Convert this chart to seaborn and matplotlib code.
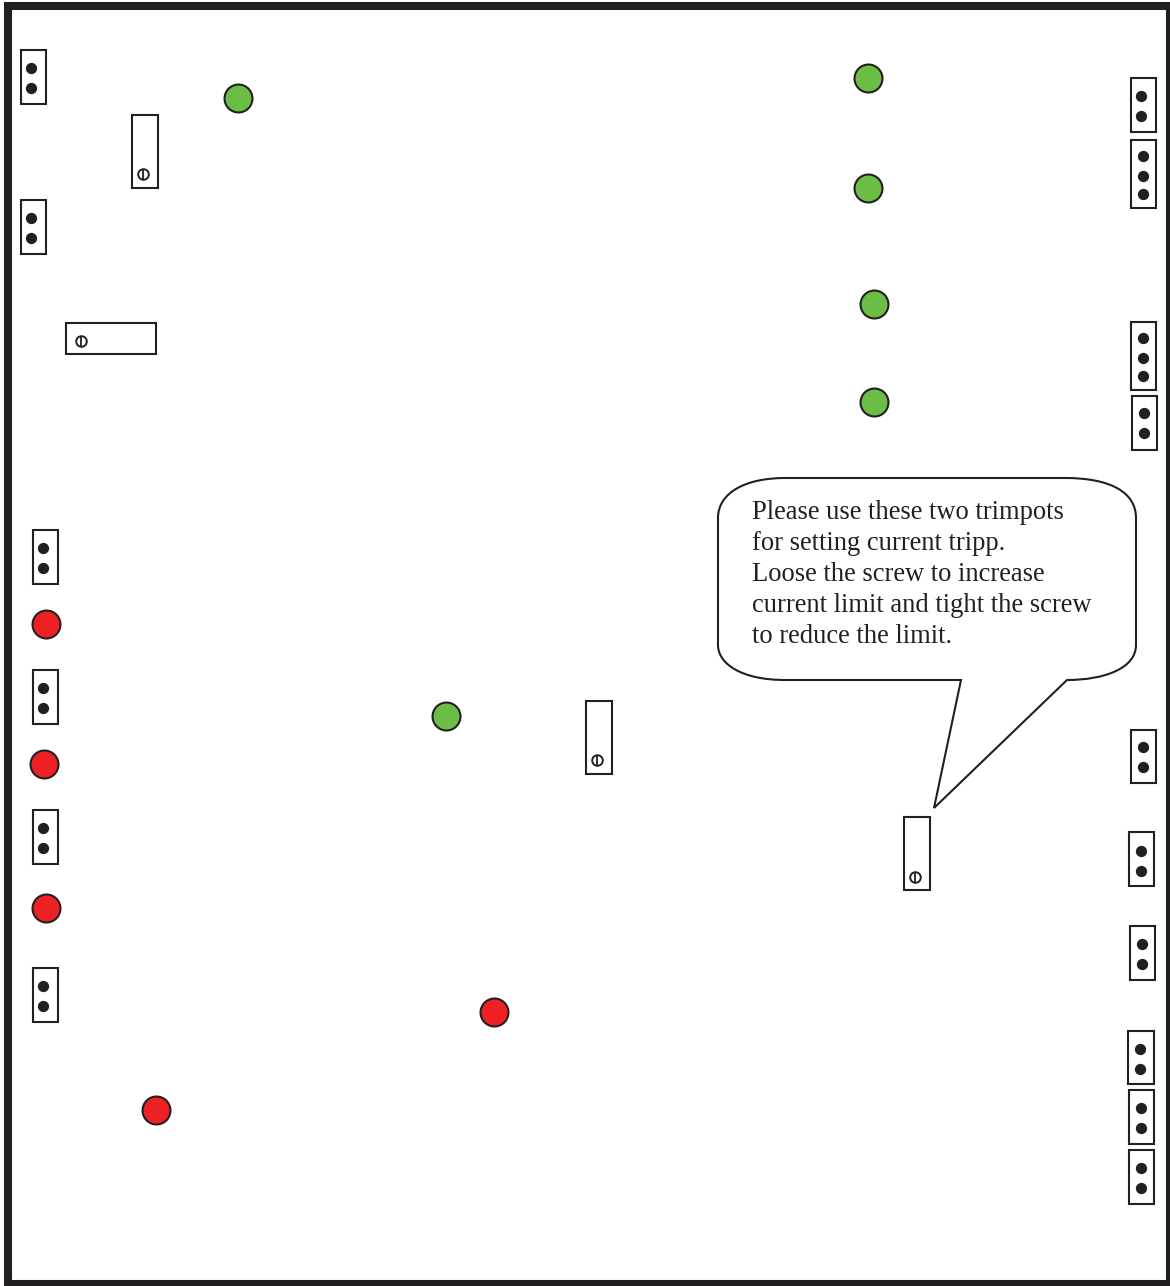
import matplotlib
matplotlib.use("Agg")
import matplotlib.pyplot as plt
from matplotlib.patches import Rectangle, PathPatch
from matplotlib.path import Path
import seaborn as sns

sns.set_theme(style="white")
plt.rcParams['font.family'] = ['Liberation Serif', 'DejaVu Serif']

INK = "#231f20"
GREEN = "#6abd45"
RED = "#ed2024"

# connector boxes: left, top, right, bottom
connector_boxes = [
    (21, 50, 46, 104), (21, 200, 46, 254),
    (1131, 78, 1156, 132), (1131, 140, 1156, 208),
    (1131, 322, 1156, 390), (1132, 396, 1157, 450),
    (33, 530, 58, 584), (33, 670, 58, 724), (33, 810, 58, 864), (33, 968, 58, 1022),
    (1131, 730, 1156, 783), (1129, 832, 1154, 886), (1130, 926, 1155, 980),
    (1128, 1031, 1154, 1084), (1129, 1090, 1154, 1144), (1129, 1150, 1154, 1204),
]
pin_x = [30.6, 30.6, 30.6, 30.6, 1140.6, 1140.6, 1142.6, 1142.6, 1142.6, 1142.6, 1142.6, 1142.6, 1143.6, 1143.6,
         42.6, 42.6, 42.6, 42.6, 42.6, 42.6, 42.6, 42.6,
         1142.6, 1142.6, 1140.6, 1140.6, 1141.6, 1141.6, 1139.6, 1139.6, 1140.6, 1140.6, 1140.6, 1140.6]
pin_y = [67.6, 87.6, 217.6, 237.6, 95.6, 115.6, 155.6, 175.6, 193.6, 337.6, 357.6, 375.6, 412.6, 432.6,
         547.6, 567.6, 687.6, 707.6, 827.6, 847.6, 985.6, 1005.6,
         746.6, 766.6, 850.6, 870.6, 943.6, 963.6, 1048.6, 1068.6, 1107.6, 1127.6, 1167.6, 1187.6]

# trimpots: left, top, right, bottom
trimpot_boxes = [(132, 115, 158, 188), (66, 323, 156, 354), (586, 701, 612, 774), (904, 817, 930, 890)]
screw_x = [142.6, 80.6, 596.6, 914.6]
screw_y = [173.6, 340.6, 759.6, 876.6]

green_x = [237.6, 867.6, 867.6, 873.6, 873.6, 445.6]
green_y = [97.6, 77.6, 187.6, 303.6, 401.6, 715.6]
red_x = [45.6, 43.6, 45.6, 493.6, 155.6]
red_y = [623.6, 763.6, 907.6, 1011.6, 1109.6]

note_lines = [
    "Please use these two trimpots",
    "for setting current tripp.",
    "Loose the screw to increase",
    "current limit and tight the screw",
    "to reduce the limit.",
]
note_baselines = [519, 550, 581, 612, 643]

fig = plt.figure(figsize=(11.7, 12.86), dpi=100, facecolor="white")
ax = fig.add_axes([0, 0, 1, 1])
ax.set_xlim(0, 1170)
ax.set_ylim(1286, 0)
ax.axis("off")


def box(b, lw=1.5):
    ax.add_patch(Rectangle((b[0], b[1]), b[2] - b[0], b[3] - b[1], fc="white", ec=INK, lw=lw, zorder=2))


# board outline
ax.add_patch(Rectangle((8, 6), 1162, 1278, fc="white", ec=INK, lw=5.8, zorder=1))

for b in connector_boxes + trimpot_boxes:
    box(b)

sns.scatterplot(x=pin_x, y=pin_y, ax=ax, color=INK, s=66, linewidth=0, zorder=3, legend=False)
sns.scatterplot(x=screw_x, y=screw_y, ax=ax, color="white", edgecolor=INK, s=58, linewidth=1.4, zorder=3, legend=False)
sns.scatterplot(x=screw_x, y=screw_y, ax=ax, color=INK, marker="|", s=58, linewidth=1.3, zorder=4, legend=False)
sns.scatterplot(x=green_x, y=green_y, ax=ax, color=GREEN, edgecolor=INK, s=405, linewidth=1.5, zorder=3, legend=False)
sns.scatterplot(x=red_x, y=red_y, ax=ax, color=RED, edgecolor=INK, s=405, linewidth=1.5, zorder=3, legend=False)

# speech bubble
verts = [
    (785, 478), (1065, 478),
    (1110, 478), (1136, 492), (1136, 518),
    (1136, 645),
    (1136, 668), (1105, 680), (1067, 680),
    (934, 808), (961, 680), (785, 680),
    (742, 680), (718, 664), (718, 645),
    (718, 518),
    (718, 493), (745, 478), (785, 478),
]
codes = [Path.MOVETO, Path.LINETO,
         Path.CURVE4, Path.CURVE4, Path.CURVE4,
         Path.LINETO,
         Path.CURVE4, Path.CURVE4, Path.CURVE4,
         Path.LINETO, Path.LINETO, Path.LINETO,
         Path.CURVE4, Path.CURVE4, Path.CURVE4,
         Path.LINETO,
         Path.CURVE4, Path.CURVE4, Path.CURVE4]
ax.add_patch(PathPatch(Path(verts, codes), fc="white", ec=INK, lw=1.5, zorder=2, joinstyle="miter"))

for line, y in zip(note_lines, note_baselines):
    ax.text(752, y, line, fontsize=19.12, color=INK, ha="left", va="baseline", zorder=5)

fig.savefig("out.png", dpi=100, facecolor="white")
